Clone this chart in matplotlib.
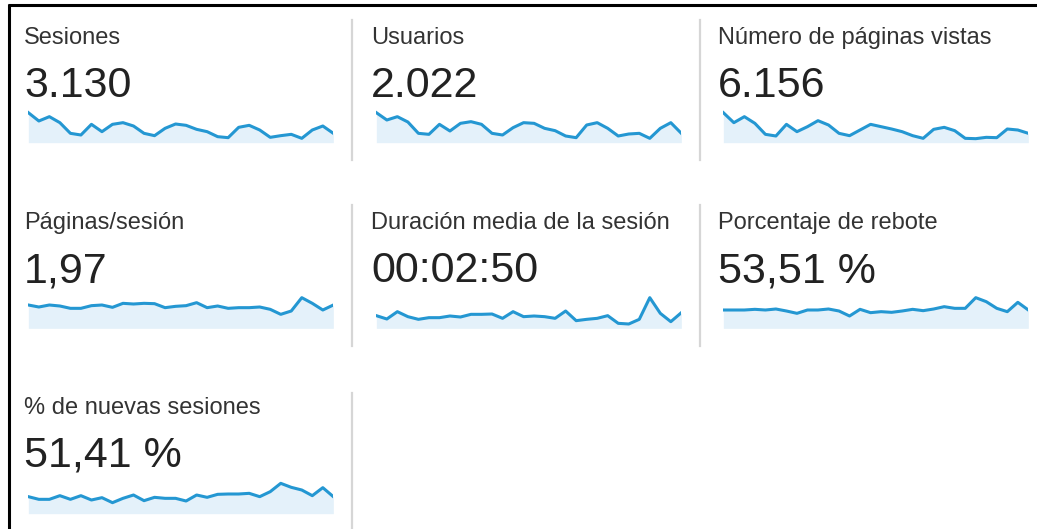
import matplotlib
matplotlib.use("Agg")
import matplotlib.pyplot as plt
from matplotlib.lines import Line2D

W, H = 1037, 529
plt.rcParams['font.family'] = ['Liberation Sans', 'DejaVu Sans']

# Metric titles and headline values
titles = ["Sesiones", "Usuarios", "Número de páginas vistas",
          "Páginas/sesión", "Duración media de la sesión", "Porcentaje de rebote",
          "% de nuevas sesiones"]
values = ["3.130", "2.022", "6.156", "1,97", "00:02:50", "53,51 %", "51,41 %"]

# Daily sparkline readings (relative heights)
sesiones = [90, 65, 78, 60, 28, 23, 55, 33, 55, 60, 50, 28, 21, 43, 56, 52, 40, 33, 18, 15,
            46, 52, 38, 16, 21, 25, 13, 38, 50, 28]
usuarios = [90, 68, 78, 62, 28, 25, 55, 35, 58, 63, 55, 28, 23, 45, 60, 58, 43, 36, 20, 15,
            53, 60, 43, 20, 26, 28, 13, 43, 60, 28]
paginas_vistas = [90, 60, 78, 58, 25, 20, 55, 33, 48, 66, 53, 28, 21, 38, 55, 48, 41, 33, 21, 13,
                  40, 46, 36, 13, 12, 16, 15, 41, 38, 28]
paginas_sesion = [70, 64, 70, 67, 60, 60, 68, 70, 63, 75, 73, 75, 74, 62, 66, 68, 77, 62, 67, 60,
                  62, 62, 64, 57, 42, 52, 92, 75, 55, 70]
duracion = [38, 28, 50, 35, 27, 32, 32, 37, 34, 42, 42, 43, 30, 50, 35, 37, 35, 30, 52, 23,
            27, 30, 38, 15, 13, 27, 92, 45, 20, 47]
rebote = [55, 55, 55, 57, 55, 58, 52, 45, 55, 55, 58, 52, 37, 57, 47, 50, 48, 52, 57, 53,
          58, 65, 60, 60, 92, 80, 60, 50, 78, 55]
nuevas = [51, 43, 43, 54, 43, 54, 41, 48, 33, 46, 56, 39, 49, 46, 46, 38, 56, 49, 58, 59,
          59, 61, 51, 66, 91, 79, 71, 54, 78, 51]
series = [sesiones, usuarios, paginas_vistas, paginas_sesion, duracion, rebote, nuevas]

LINE = "#2497d2"
FILL = "#e4f1fa"

fig = plt.figure(figsize=(W / 100, H / 100), dpi=100)
fig.patch.set_facecolor("white")


def fx(x):
    return x / W


def fy(y):
    return 1 - y / H


col_text_x = [25, 372, 719]
col_crop_x = [20, 368, 715]
row_off = [0, 185, 370]
row_base_z = [128, 130, 131]

for i, (t, v, s) in enumerate(zip(titles, values, series)):
    r, c = divmod(i, 3)
    off = row_off[r]
    fig.text(fx(col_text_x[c] - 1), fy(44 + off), t, fontsize=17, color="#333333",
             va="baseline", ha="left")
    fig.text(fx(col_text_x[c] - 1), fy(97 + off), v, fontsize=31, color="#222222",
             va="baseline", ha="left")
    crop_top = 100 + off
    bz = row_base_z[r]
    x0 = col_crop_x[c] + 25 / 3
    x1 = col_crop_x[c] + 940 / 3
    y_top = crop_top
    y_bot = crop_top + bz / 3
    ax = fig.add_axes([fx(x0), fy(y_bot), fx(x1) - fx(x0), fy(y_top) - fy(y_bot)])
    xs = list(range(len(s)))
    ax.fill_between(xs, 0, s, color=FILL, lw=0)
    ax.plot(xs, s, color=LINE, lw=2.2, solid_joinstyle="round")
    ax.set_xlim(0, len(s) - 1)
    ax.set_ylim(0, bz)
    ax.axis("off")

# separators
seps = [(352, 20, 160), (700, 20, 160), (352, 205, 346), (700, 205, 346), (352, 393, 529)]
for x, ya, yb in seps:
    fig.add_artist(Line2D([fx(x), fx(x)], [fy(ya), fy(yb)], color="#d6d6d6", lw=1.6,
                          transform=fig.transFigure))

# black frame (top and left)
fig.add_artist(Line2D([fx(7.5), 1], [fy(5.3), fy(5.3)], color="black", lw=2.2,
                      transform=fig.transFigure, solid_capstyle="butt"))
fig.add_artist(Line2D([fx(9), fx(9)], [fy(4), 0], color="black", lw=2.2,
                      transform=fig.transFigure, solid_capstyle="butt"))

fig.savefig("out.png", dpi=100, facecolor="white")
